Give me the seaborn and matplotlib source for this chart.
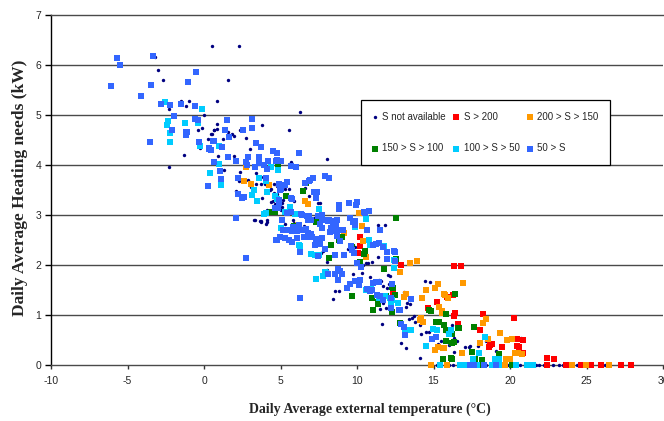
import matplotlib
matplotlib.use("Agg")
import matplotlib.pyplot as plt
import seaborn as sns
import pandas as pd

# ---------------- data ----------------
series_labels = ["S not available", "S > 200", "200 > S > 150",
                 "150 > S > 100", "100 > S > 50", "50 > S"]
series_colors = ["#000080", "#FF0000", "#FF9900", "#008000", "#00CCFF", "#3366FF"]

x_ticks = [-10, -5, 0, 5, 10, 15, 20, 25, 30]
y_ticks = [0, 1, 2, 3, 4, 5, 6, 7]

# S not available (temperature, heating need)
navy_pts = [
    (0.5, 6.39), (2.27, 6.38), (-3.19, 6.17), (-3.03, 5.91), (-2.66, 5.71), (1.57, 5.71),
    (-1.5, 5.29), (-1.0, 5.29), (0.83, 5.29), (-1.2, 5.19), (-2.31, 5.11), (0.03, 5.0),
    (0.83, 4.83), (-0.15, 4.75), (-0.37, 4.71), (0.65, 4.71), (0.87, 4.72), (1.59, 4.67),
    (2.33, 4.71), (3.8, 4.81), (1.96, 4.59), (1.83, 4.62), (0.54, 4.62), (1.27, 4.53),
    (0.28, 4.53), (2.73, 4.54), (-0.28, 4.36), (3.03, 4.33), (-1.29, 4.19), (0.9, 4.18),
    (1.94, 4.18), (-2.29, 3.96), (-0.24, 4.35), (0.48, 4.63), (0.67, 4.71),
    (4.21, 4.07), (5.67, 4.05), (1.29, 3.91), (2.36, 3.86), (3.4, 3.85), (2.27, 3.69),
    (2.86, 3.71), (3.86, 3.77), (4.06, 3.77), (3.4, 3.62), (3.75, 3.62), (4.01, 3.62),
    (3.08, 3.56), (4.36, 3.53), (4.6, 3.62), (4.78, 3.59), (5.32, 3.53), (5.54, 3.52),
    (2.09, 3.49), (3.82, 3.35), (4.34, 3.51), (4.56, 3.45), (4.76, 3.43), (4.38, 3.27),
    (5.13, 3.25), (5.17, 3.3), (5.91, 3.28), (4.14, 3.11), (5.04, 3.1), (5.1, 3.17),
    (3.32, 2.91), (3.71, 2.87), (4.04, 2.83), (5.8, 2.9), (5.56, 2.53),
    (6.3, 5.07), (5.54, 4.71), (6.2, 4.25), (8.03, 4.11), (5.67, 4.06), (6.57, 3.55),
    (6.89, 3.39), (7.48, 3.25), (7.59, 3.25), (11.83, 2.8), (11.34, 2.81), (8.22, 2.79),
    (6.94, 2.97), (7.09, 2.93), (6.54, 2.78), (5.84, 2.71), (5.91, 2.85), (4.1, 2.86),
    (3.73, 2.88), (4.54, 3.29), (4.62, 3.22), (4.8, 3.34),
    (7.63, 2.25), (7.81, 2.29), (8.03, 2.07), (8.03, 1.91),
    (11.34, 2.16), (10.97, 2.07), (10.58, 2.05), (12.04, 1.81), (12.17, 1.78), (11.41, 1.7),
    (11.3, 1.68), (10.86, 1.76), (9.71, 1.82), (8.57, 1.49), (8.44, 1.33), (8.81, 1.49),
    (10.3, 1.85), (10.4, 2.0), (10.75, 2.05), (11.6, 1.69), (11.7, 1.59), (11.93, 1.54),
    (12.09, 1.63), (14.46, 1.69), (14.75, 1.66), (13.29, 1.25), (13.46, 1.23), (13.22, 1.17),
    (11.67, 1.25), (11.52, 1.12), (11.91, 1.15), (11.63, 0.83), (14.7, 0.67), (14.5, 0.67),
    (15.3, 0.43), (15.5, 0.48), (14.12, 0.14), (14.2, 0.62), (12.87, 0.45), (13.18, 0.35),
    (14.09, 0.81), (13.76, 0.87), (13.59, 0.95), (13.4, 0.93), (13.7, 0.99), (13.09, 1.47),
    (9.42, 2.33), (9.88, 2.37), (3.29, 2.91), (3.69, 2.88), (4.14, 2.9), (5.06, 2.77),
    (5.32, 2.83), (6.9, 2.95), (7.2, 2.95),
    (16.18, 0.81), (15.72, 0.69), (15.9, 0.66), (16.34, 0.55), (16.56, 0.49), (18.44, 0.48),
    (18.72, 0.46), (17.93, 0.39), (17.08, 0.37), (17.41, 0.39), (17.34, 0.37), (16.01, 0.4),
    (20.72, 0.55), (19.11, 0.29), (16.34, 0.26), (16.86, 0.25),
    (16.3, 0.0), (16.0, 0.0), (18.45, 0.0), (20.65, 0.0), (21.0, 0.0), (21.9, 0.0),
    (22.2, 0.0), (22.8, 0.0), (23.2, 0.0), (23.45, 0.0), (21.7, 0.0), (24.4, 0.0),
    (19.9, 0.0), (17.0, 0.0), (15.2, 0.0), (25.2, 0.0), (26.2, 0.0),
]

red_pts = [
    (10.17, 2.57), (10.06, 2.24), (10.17, 2.39), (12.87, 2.0), (16.32, 1.99), (16.82, 1.98),
    (12.35, 1.43), (14.66, 1.15), (15.23, 1.27), (15.88, 1.37), (16.28, 1.4), (16.36, 0.98),
    (16.6, 0.82), (16.38, 1.04), (18.24, 1.03), (20.29, 0.95), (18.02, 0.7), (18.72, 0.4),
    (18.61, 0.37), (18.8, 0.42), (19.5, 0.37), (20.44, 0.52), (20.86, 0.5), (20.44, 0.39),
    (20.62, 0.37), (20.88, 0.25), (22.45, 0.14), (22.86, 0.12),
    (21.37, 0.0), (22.43, 0.0), (23.69, 0.0), (24.67, 0.0), (25.28, 0.0), (25.96, 0.0),
    (27.23, 0.0), (27.88, 0.0),
]

orange_pts = [
    (2.77, 3.96), (2.6, 3.68), (3.05, 3.63), (4.28, 3.61), (6.17, 2.8), (6.59, 3.28),
    (6.83, 3.22), (10.12, 3.05), (10.34, 2.79), (9.12, 2.65), (10.36, 2.48), (10.6, 2.17),
    (13.44, 2.04), (13.92, 2.09), (12.81, 1.87), (13.22, 1.43), (13.09, 1.37), (14.51, 1.5),
    (15.1, 1.55), (15.27, 1.63), (15.75, 1.4), (15.97, 1.35), (14.1, 0.9), (14.2, 0.95),
    (14.3, 0.87), (15.53, 1.08), (15.58, 1.04), (15.33, 1.17), (15.27, 0.37), (15.71, 0.35),
    (15.12, 0.31), (16.93, 1.65), (15.71, 1.42), (18.46, 0.92), (18.24, 0.85), (19.37, 0.65),
    (18.54, 0.53), (18.06, 0.45), (15.64, 0.35), (19.78, 0.5), (20.16, 0.52), (20.33, 0.25),
    (20.53, 0.25), (20.81, 0.22), (16.86, 0.25), (19.75, 0.12), (20.0, 0.12), (16.95, 1.65),
    (14.53, 1.51), (14.25, 1.34),
    (14.84, 0.0), (15.89, 0.0), (19.67, 0.0), (24.06, 0.0), (24.99, 0.0), (26.44, 0.0),
]

green_pts = [
    (4.86, 3.97), (5.04, 3.58), (5.34, 3.38), (4.38, 3.06), (4.67, 3.07), (5.89, 2.79),
    (8.16, 2.15), (6.66, 3.65), (6.5, 3.49), (12.52, 2.95), (9.01, 2.57), (7.31, 2.87),
    (8.31, 2.41), (10.52, 2.29), (10.49, 2.23), (12.54, 2.13), (10.21, 2.07), (9.69, 1.39),
    (12.3, 1.56), (12.5, 1.4), (12.32, 1.07), (12.78, 0.84), (11.87, 1.39), (11.34, 1.23),
    (11.04, 1.11), (10.99, 1.35), (11.39, 1.27), (14.72, 1.1), (14.86, 1.08), (15.18, 0.87),
    (15.38, 0.87), (15.82, 1.03), (15.84, 0.7), (16.19, 0.62), (16.67, 0.75), (15.62, 0.13),
    (16.16, 0.15), (16.38, 1.42), (15.66, 0.81), (16.6, 0.75), (17.62, 0.76), (15.8, 0.49),
    (16.23, 0.45), (16.34, 0.47), (19.26, 0.23), (17.5, 0.26), (16.2, 0.12),
    (17.7, 0.12), (18.2, 0.11), (11.74, 1.92), (12.37, 1.54), (9.69, 2.37),
    (8.8, 2.5),
    (17.47, 0.0), (18.09, 0.0), (20.11, 0.0),
]

cyan_pts = [
    (-2.57, 5.27), (-0.15, 5.13), (-2.38, 4.88), (-2.44, 4.8), (-1.22, 4.84), (-0.41, 4.84),
    (-2.25, 4.64), (-2.25, 4.46), (-0.28, 4.39), (0.98, 4.38), (0.98, 4.02), (4.38, 3.97),
    (4.84, 3.9), (0.41, 3.85), (1.09, 3.61), (3.6, 3.74), (4.08, 3.68), (3.29, 3.5),
    (3.14, 3.41), (3.45, 3.28), (4.14, 3.47), (4.62, 3.38), (4.76, 3.33), (5.61, 3.17),
    (3.9, 3.03), (5.3, 3.06), (5.96, 3.03), (6.2, 2.4), (7.02, 2.23), (7.28, 2.21),
    (7.9, 1.86), (7.77, 1.79), (7.33, 1.72), (7.51, 3.13), (10.62, 2.94), (9.84, 2.77),
    (8.62, 2.76), (10.78, 2.51), (10.86, 2.41), (12.43, 2.11), (12.45, 1.95), (7.97, 1.85),
    (10.6, 1.5), (10.9, 1.52), (11.45, 1.37), (11.43, 1.34), (12.17, 1.35), (12.3, 1.3),
    (12.22, 1.27), (12.65, 1.25), (13.53, 1.33), (16.16, 0.7), (16.03, 0.62), (14.99, 0.72),
    (15.23, 0.7), (14.51, 0.39), (13.11, 0.71), (13.55, 0.71), (18.35, 0.57),
    (17.95, 0.24), (17.6, 0.12), (19.0, 0.12), (19.3, 0.12), (11.74, 2.38), (12.39, 2.29),
    (11.83, 1.38), (10.58, 2.93), (11.69, 2.38), (7.26, 2.21), (7.53, 2.21), (6.3, 2.39),
    (5.06, 2.75), (4.08, 3.04),
    (15.4, 0.0), (16.75, 0.0), (17.1, 0.0), (17.84, 0.0), (18.8, 0.0), (19.3, 0.0),
    (20.4, 0.0), (21.14, 0.0), (21.5, 0.0),
]

blue_pts = [
    (-5.7, 6.14), (-3.36, 6.19), (-5.5, 6.01), (-0.5, 5.86), (-1.05, 5.67), (-6.09, 5.59),
    (-3.47, 5.61), (-4.14, 5.38), (-2.83, 5.22), (-2.25, 5.21), (-1.5, 5.22), (-0.61, 5.19),
    (-1.96, 4.99), (-0.61, 4.93), (-0.37, 4.91), (1.48, 4.9), (3.14, 4.93), (1.35, 4.69),
    (2.55, 4.71), (3.16, 4.73), (-2.11, 4.71), (-1.16, 4.67), (-1.18, 4.6), (1.64, 4.57),
    (-3.51, 4.47), (-0.35, 4.47), (0.59, 4.48), (3.42, 4.45), (1.2, 4.37), (3.73, 4.37),
    (0.3, 4.33), (0.44, 4.31), (4.49, 4.29), (4.76, 4.25), (1.59, 4.17), (2.86, 4.17),
    (3.6, 4.17), (0.63, 4.06), (1.05, 3.89), (2.09, 4.08), (2.75, 4.07), (3.6, 4.05),
    (2.79, 4.0), (3.36, 3.97), (3.95, 4.01), (4.12, 3.93), (4.76, 4.1), (4.99, 4.08),
    (5.69, 3.99), (6.0, 3.97), (6.2, 4.23), (1.11, 3.72), (0.28, 3.58), (2.23, 3.75),
    (4.04, 3.75), (4.93, 3.63), (5.04, 3.53), (4.95, 3.51), (5.41, 3.67), (5.3, 3.61),
    (2.23, 3.43), (2.6, 3.37), (2.51, 3.34), (4.91, 3.3), (4.89, 3.25), (5.69, 3.35),
    (5.74, 3.33), (4.67, 3.15), (4.84, 3.15), (5.43, 3.04), (2.07, 2.94), (5.1, 2.91),
    (5.54, 2.7), (5.98, 2.76), (6.11, 2.69), (4.73, 2.51), (2.75, 2.15), (6.28, 2.27),
    (7.46, 2.19), (8.12, 1.83), (6.26, 1.34),
    (4.17, 4.09), (4.71, 4.09), (5.02, 4.09), (6.96, 3.71), (7.11, 3.75), (6.89, 3.68),
    (6.61, 3.65), (7.88, 3.78), (8.2, 3.75), (7.22, 3.47), (7.37, 3.46), (7.35, 3.35),
    (8.84, 3.19), (8.84, 3.13), (9.47, 3.24), (10.03, 3.27), (9.95, 3.21), (10.54, 3.04),
    (9.84, 2.81), (9.75, 2.87), (10.67, 2.71), (8.53, 2.7), (8.31, 2.75), (7.94, 2.91),
    (8.16, 2.91), (8.68, 2.9), (8.64, 2.83), (7.7, 3.0), (7.44, 2.98), (7.57, 2.82),
    (7.72, 2.75), (6.72, 2.98), (6.37, 3.02), (6.2, 2.74), (6.66, 2.73), (6.72, 2.57),
    (6.98, 2.62), (5.19, 2.71), (5.13, 2.91),
    (6.54, 2.57), (6.79, 2.65), (7.09, 2.56), (7.42, 2.53), (7.31, 2.48), (7.68, 2.54),
    (9.62, 2.39), (9.66, 2.3), (9.8, 2.25), (11.45, 2.44), (11.73, 2.37), (11.96, 2.26),
    (12.39, 2.28), (10.01, 2.05), (10.27, 1.97), (12.32, 1.63), (8.53, 1.83), (8.9, 1.88),
    (9.01, 1.83), (8.75, 1.93), (8.79, 1.71), (9.34, 1.55), (9.55, 1.63), (9.84, 1.69),
    (10.1, 1.61), (10.21, 1.7), (10.65, 1.53), (10.97, 1.5), (10.84, 1.48), (11.02, 1.65),
    (11.21, 1.67), (11.43, 1.66), (13.55, 1.32), (12.83, 1.11), (12.74, 1.1), (12.19, 1.15),
    (11.5, 1.38), (11.7, 1.3), (11.3, 1.4), (15.14, 0.57), (14.88, 0.52), (13.13, 0.61),
    (12.9, 0.82), (13.1, 0.76),
    (11.96, 2.12), (12.48, 2.08), (12.19, 1.35), (10.49, 3.07), (10.8, 3.09), (9.51, 2.95),
    (9.84, 2.88), (8.81, 3.21), (11.52, 2.7), (11.04, 2.4), (11.26, 2.43), (12.5, 2.27),
    (9.18, 2.2), (8.55, 2.2), (7.24, 2.4), (7.59, 2.43), (7.9, 2.32), (4.76, 2.5),
    (4.97, 2.56), (5.3, 2.55), (5.54, 2.51), (5.76, 2.47), (6.09, 2.55), (6.41, 2.71),
    (6.2, 2.81), (5.84, 2.76), (5.74, 2.69), (5.08, 2.91), (5.45, 3.04), (5.67, 3.07),
    (6.41, 3.01), (6.87, 2.98), (6.79, 2.9), (7.0, 2.91), (7.72, 2.9), (8.12, 2.88),
    (8.31, 2.89), (8.4, 2.82), (8.42, 2.7), (8.64, 2.69), (8.7, 2.58), (8.86, 2.48),
    (8.25, 2.67), (8.9, 2.7), (9.1, 2.7),
    (-0.33, 4.47), (0.63, 4.49), (0.35, 4.34), (-0.57, 4.92), (-1.13, 4.67), (-1.53, 5.22),
    (-0.59, 5.19),
    (17.36, 0.0), (17.67, 0.0), (18.32, 0.0), (19.06, 0.0),
]

series_points = [navy_pts, red_pts, orange_pts, green_pts, cyan_pts, blue_pts]

frames = []
for lab, pts in zip(series_labels, series_points):
    frames.append(pd.DataFrame({"temp": [p[0] for p in pts],
                                "heat": [p[1] for p in pts],
                                "series": lab}))
df = pd.concat(frames, ignore_index=True)

# ---------------- figure ----------------
sns.set_theme(style="white")
plt.rcParams["font.family"] = ["Liberation Sans", "DejaVu Sans"]

fig = plt.figure(figsize=(6.64, 4.21), dpi=100)
ax = fig.add_axes([51 / 664, 56 / 421, 612 / 664, 350 / 421])

grid_col = "#4a4a4a"
for yv in y_ticks[1:-1]:
    ax.axhline(yv, color=grid_col, lw=1.0, zorder=0)

marker_map = {lab: ("o" if lab == "S not available" else "s") for lab in series_labels}
size_map = {lab: (6 if lab == "S not available" else 15) for lab in series_labels}

for lab, col in zip(series_labels, series_colors):
    sub = df[df["series"] == lab]
    sns.scatterplot(data=sub, x="temp", y="heat", ax=ax, color=col,
                    marker=marker_map[lab], s=size_map[lab], linewidth=0,
                    label=lab, zorder=3, clip_on=False)

ax.set_xlim(-10, 30)
ax.set_ylim(0, 7)
ax.set_xticks(x_ticks)
ax.set_yticks(y_ticks)
ax.set_xticklabels([str(v) for v in x_ticks])
ax.set_yticklabels([str(v) for v in y_ticks])

for side in ["left", "bottom", "top"]:
    ax.spines[side].set_visible(True)
    ax.spines[side].set_linewidth(1.0)
ax.spines["left"].set_color("black")
ax.spines["bottom"].set_color(grid_col)
ax.spines["top"].set_color(grid_col)
ax.spines["right"].set_visible(False)

ax.tick_params(axis="y", direction="out", length=4, width=1, color="black",
               pad=3, labelsize=7.5, left=True)
ax.tick_params(axis="x", direction="out", length=3, width=1, color="#333333",
               pad=5, labelsize=7.5, bottom=True)

ax.set_xlabel("Daily Average external temperature (°C)", fontsize=10,
              fontweight="bold", family=["Liberation Serif", "DejaVu Serif"])
ax.set_ylabel("Daily Average Heating needs (kW)", fontsize=12.5,
              fontweight="bold", family=["Liberation Serif", "DejaVu Serif"])
ax.xaxis.set_label_coords((370 - 51) / 612, (365 - 403) / 350)
ax.yaxis.set_label_coords((28 - 51) / 612, (365 - 188) / 350)

# legend: fill row-wise (matplotlib fills column-wise)
handles, labels = ax.get_legend_handles_labels()
order = [0, 3, 1, 4, 2, 5]
handles = [handles[i] for i in order]
labels = [labels[i] for i in order]
leg = ax.legend(handles, labels, loc="upper left", ncol=3, mode="expand",
                bbox_to_anchor=((361 - 51) / 612, (365 - 166) / 350,
                                249 / 612, 66 / 350),
                fontsize=7, frameon=True, fancybox=False, borderpad=1.2,
                labelspacing=2.2, handlelength=0.5, handletextpad=0.5,
                columnspacing=0.8, borderaxespad=0)
leg.get_frame().set_edgecolor("black")
leg.get_frame().set_linewidth(0.9)
leg.get_frame().set_alpha(1)
leg.set_zorder(5)

fig.savefig("out.png", dpi=100)
